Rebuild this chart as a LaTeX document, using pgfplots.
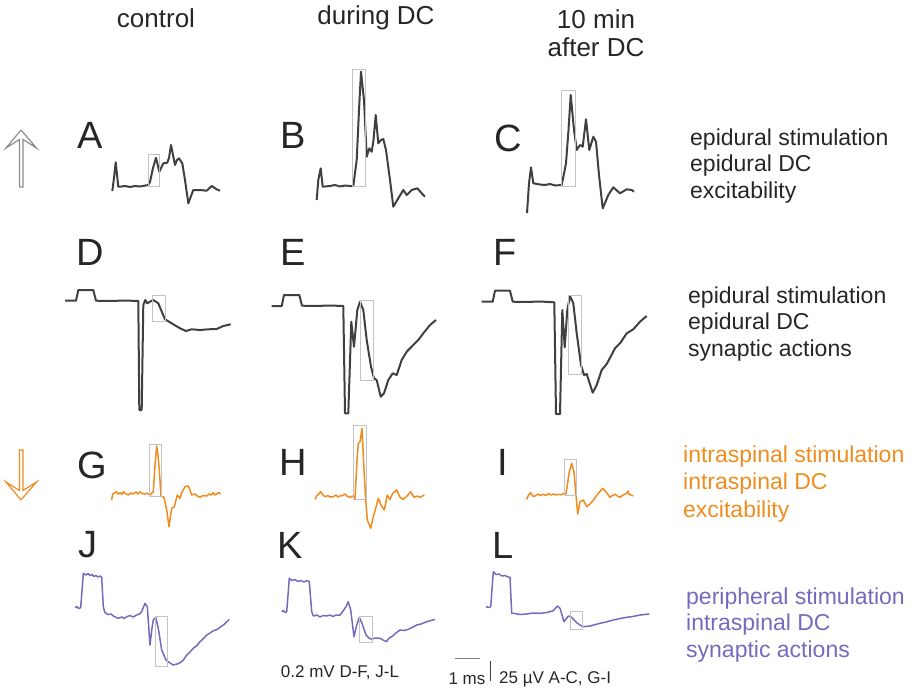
\documentclass[border=0pt]{standalone}
\usepackage{pgfplots}
\pgfplotsset{compat=1.18}
\usepackage{fontspec}
\setmainfont{Liberation Sans}
\definecolor{trace}{RGB}{64,64,64}
\definecolor{orng}{RGB}{240,140,30}
\definecolor{purp}{RGB}{118,106,190}
\definecolor{boxg}{RGB}{195,195,195}
\definecolor{arrg}{RGB}{140,140,140}
\tikzset{
  big/.style={font=\fontsize{38}{40}\selectfont, text=black!85, inner sep=0pt},
  lab/.style={anchor=west, font=\fontsize{23}{26}\selectfont, inner sep=0pt},
  hdr/.style={font=\fontsize{26}{28}\selectfont, text=black!85, inner sep=0pt},
  small/.style={font=\fontsize{17}{19}\selectfont, text=black!85, inner sep=0pt},
}
\pgfplotsset{
  tr/.style={trace, line width=2pt, line join=round},
  tro/.style={orng, line width=1.5pt, line join=round},
  trp/.style={purp, line width=1.5pt, line join=round},
  bx/.style={boxg, line width=0.9pt},
}
\begin{document}
\begin{tikzpicture}
\begin{axis}[
  width=920pt, height=689pt, scale only axis,
  xmin=0, xmax=920, ymin=0, ymax=689, y dir=reverse,
  hide axis, clip=false,
]
\addplot[draw=none] coordinates {(0,0) (920,689)};
% ---------- row 1 traces ----------
\addplot[tr] coordinates {
(112.3,191)(114,178)(115.7,162.3)(118.3,186.7)(120,186.7)(125,186)(130,187)(135,186)(140,186.5)(148.3,185)
(150,182)(153,168)(156,157.7)(159.3,171.7)(163.3,163.3)(167.3,162.7)(169,158)(171,145)(173,155)(175,165)(177,160)(179,158.3)(182.3,163.3)
(185,180)(188.3,203.3)(193.3,190)(200,190)(206.7,190.7)(211.7,186)(216.7,189.3)(220,190.7)};
\addplot[tr] coordinates {
(316.7,200)(318.3,180)(320.7,168.3)(322.7,186.7)(330,186)(335,185)(340,186.5)(345,185.5)(350,186)(353.3,186)
(356.7,160)(359,110)(361,71.7)(364,100)(366.7,156.7)(369.3,148.3)(371.7,151.7)(373.5,140)(375.7,115)(378.3,143.3)(381,140)(383.3,139)(386,150)
(390,180)(393.3,206.7)(397.3,200)(403.3,190)(406.7,195)(411.7,190)(417.3,188.3)(421.7,193.3)(425,196.7)};
\addplot[tr] coordinates {
(527,213)(529,183.3)(531,167.3)(533.3,183.3)(540,184.5)(545,185)(550,184)(555,185.5)(561.7,185)
(566,163.3)(568.5,130)(570.7,95)(574,130)(576.7,150)(580,145)(582.7,146.7)(586,119.3)(589.3,150)(593.3,136.7)(596,141.7)
(599,175)(602.7,208.3)(608.3,195)(613.3,187.3)(620,193.3)(626.7,189.3)(631.7,190)(634,191.7)};
% ---------- row 2 traces ----------
\addplot[tr] coordinates {
(65,300.7)(76,300.7)(78.3,290)(93.3,290)(96,300.7)(110,301)(125,300.5)(138.3,301)(139.3,410)(141.7,410)(143.3,305)(145.3,300)(147.3,303.3)(150,301.7)(153.3,300)(158.3,303.3)
(165,319.3)(173.3,324.3)(180,328.3)(186,331)(191.7,329.3)(200,330)(208.3,329.3)(216.7,329)(223.3,326)(230.7,324.3)};
\addplot[tr] coordinates {
(271.7,306)(281.7,306)(284,295)(299.3,295)(302,305.7)(315,306)(330,305.5)(343.3,306)(345,413.3)(348.3,413.3)(351.3,321.7)(354,346.7)(357.3,310)(360,301.7)(363.3,310)
(366.7,340)(371,366.7)(374,378.3)(376.7,380)(380.7,396.7)(384,393.3)(388.3,380)(392.7,373.3)(396.7,375)(401.7,360)(406.7,351.7)(413.3,345)(418.3,340)(423.3,333.3)(430,325)(436,320)};
\addplot[tr] coordinates {
(481.7,301.7)(492.7,301.7)(495,290.7)(510,290.7)(512.7,301.7)(525,302)(540,301.5)(554.3,302.3)(556,414)(560,414)(562.3,310)(564.7,347.3)(567.3,310)(570,296)(573.3,303.3)
(576.7,333.3)(581,365)(584,375)(586.7,374)(592.7,392.7)(596.7,385)(601.7,370)(606.7,364)(615,348.3)(620,343.3)(626.7,333.3)(633.3,329.3)(640,321.7)(646.7,316)};
% ---------- row 3 traces (orange) ----------
\addplot[tro] coordinates {
(111.7,500)(112.7,494)(114.5,493)(116.7,491.7)(118,494)(120,492.7)(122,494.5)(123.3,491.7)(126,494)(128.3,495)(131,493)(133.3,494)(136,492)(138,494)(140,491.7)(142,493.5)(145,494)(147,493)(150,495)(152,493)(153.3,491.7)
(155,465)(156.7,446)(158,455)(159.3,470)(161,496)(164,497.3)(166.7,510)(169,526.7)(171.7,508.3)(174.3,506.7)(177.3,495)(180,498.3)(182,492)(185,486.7)(188.3,486)(190,490)(191.7,495)(195,494)(197.3,496)(200,497.3)(203,495.5)(206.7,496)(209,494)(211,495)(213.3,492.7)(215,495)(216.7,494)(218.5,492.5)(220.7,494)};
\addplot[tro] coordinates {
(315,499.3)(316.7,496)(318.5,494)(320.7,491.7)(323,495)(325,496.7)(328,495.5)(330,497)(333.3,496.7)(336,495)(338,497)(340,496)(342.5,495.5)(345,494)(347.5,496.5)(350,497.3)(352.5,496)(355,498.3)
(357,460)(358.3,443.3)(360,441.7)(362,428.3)(364,470)(365.7,499.3)(367.3,520)(370.7,528.3)(373.3,516.7)(375.7,508.3)(378.3,498.3)(381,505)(384.3,510)(387.3,495)(390,499.3)(392.7,493.3)(396.7,490)(400,497.3)(403.3,499.3)(407,496)(410.7,491.7)(414,497.3)(417,496)(420,497.3)(424.3,495)};
\addplot[tro] coordinates {
(526.7,499.3)(528.5,495)(530.7,492.7)(532.5,496)(535,496)(538,494)(540.5,495.5)(543.3,494.3)(546,495.5)(548.5,493.5)(551,495)(553.3,494)(556,495)(558.3,494.3)(561,494.8)(563.5,493.5)(566,494)
(569.3,471.7)(571.7,463.3)(574,471.7)(576,495)(577.7,514)(580,501.7)(583.3,500)(586.7,506.7)(590.7,503.3)(594,499.3)(598.3,493.3)(602.7,488.3)(606.7,492.7)(610,497.3)(612.5,495.5)(615,494.3)(617.5,496)(620,497.3)(623,495)(626.7,493.3)(628,491)(629,494.5)(631,495)(633.3,496)};
% ---------- row 4 traces (purple) ----------
\addplot[trp] coordinates {
(75,607.7)(77,606.5)(78.5,608.5)(80.7,607.7)(83.3,573.3)(86,575)(88,573.5)(90,575.5)(92,574.5)(94,576.5)(96,575.5)(98,577)(100,576)(101.7,577.3)(103.3,606.7)(105,612.7)(108,614.5)(111,614)(114,616.5)(118.3,618.3)(122,617)(124,618.5)(126.7,616.7)(130,615.5)(133,617)(136.7,615)(139.5,614)(141.7,611.7)
(143.5,607)(145,603.3)(147.3,606.7)(150,645)(151.7,630)(153.3,620)(155.7,617.3)(158.3,628.3)(161.7,650)(166,660)(170,663)(173.3,665)(177,664)(180,662.7)(183,660.5)(186.7,655)(190,652)(193.3,648.3)(197,645.5)(200,641.7)(203,639)(206.7,635)(210,633)(213.3,630.7)(217,629.5)(220,627.3)(224,624.5)(229.3,619.3)};
\addplot[trp] coordinates {
(281.7,611.7)(283.5,610.5)(285,612.5)(286.7,611.7)(289.3,578.3)(292,580.5)(295,579.5)(298,581.5)(301,580.5)(304,582)(307,580.5)(309.3,581.7)(311.7,611.7)(313.3,616)(317,615)(320,617)(323,615.5)(326.7,616)(330,615)(333,616.5)(336,615)(340,615)(343,611)
(346,606.7)(348.3,601.7)(350.7,610)(354,636.7)(356.7,625)(359.3,617.3)(362,623.3)(366,635)(369,638)(371.7,639.3)(375,638)(380,638.3)(383,640)(386.7,641.7)(389,638)(391.7,636.7)(396,633)(400,630)(404,630.5)(408.3,629.3)(412,627.5)(416.7,625)(421,624)(426.7,621.7)(431,620.5)(435,619.3)};
\addplot[trp] coordinates {
(486,606.7)(488.5,607.5)(490.7,606.7)(493.3,571.7)(496,574.5)(499,574)(502,576)(505,575.5)(508,577)(510,577.3)(511.7,613.3)(515,613.5)(520,614.5)(526.7,614)(533,613)(540,613.3)(547,612.5)(553.3,610.7)(557.3,606)(560,608.3)(564,621.7)(568.3,616)(571.7,617.3)(576.7,622.7)(582.7,626.7)(590,626)(600,623.3)(606,622)(613.3,620)(620,618.5)(626.7,617.3)(633,616.5)(640,615)(649.3,614)};
% ---------- grey boxes ----------
\addplot[bx] coordinates {(148.3,154)(159.3,154)(159.3,186.7)(148.3,186.7)(148.3,154)};
\addplot[bx] coordinates {(352.7,69.3)(365.7,69.3)(365.7,186.7)(352.7,186.7)(352.7,69.3)};
\addplot[bx] coordinates {(561.7,90.7)(575,90.7)(575,186)(561.7,186)(561.7,90.7)};
\addplot[bx] coordinates {(152.7,295)(165.7,295)(165.7,321.7)(152.7,321.7)(152.7,295)};
\addplot[bx] coordinates {(360,300.7)(373.3,300.7)(373.3,380.7)(360,380.7)(360,300.7)};
\addplot[bx] coordinates {(568.3,295)(581.7,295)(581.7,374.3)(568.3,374.3)(568.3,295)};
\addplot[bx] coordinates {(149,444.3)(161.7,444.3)(161.7,496)(149,496)(149,444.3)};
\addplot[bx] coordinates {(353,425.7)(366,425.7)(366,499)(353,499)(353,425.7)};
\addplot[bx] coordinates {(564.3,459)(576.7,459)(576.7,495)(564.3,495)(564.3,459)};
\addplot[bx] coordinates {(155.7,616)(167.3,616)(167.3,666)(155.7,666)(155.7,616)};
\addplot[bx] coordinates {(359.3,616)(372.7,616)(372.7,642.7)(359.3,642.7)(359.3,616)};
\addplot[bx] coordinates {(570,611.7)(582.7,611.7)(582.7,629)(570,629)(570,611.7)};
% ---------- arrows ----------
\addplot[arrg, line width=1.2pt, line join=miter] coordinates {(21,130)(36.5,148)(23,139.5)(23,187)(19.5,187)(19.5,139.5)(6,148)(21,130)};
\addplot[orng, line width=1.2pt, line join=miter] coordinates {(21,500)(36.5,482)(23,490.5)(23,450)(19.5,450)(19.5,490.5)(6,482)(21,500)};
% ---------- scale bars ----------
\addplot[gray, line width=0.8pt] coordinates {(455,658.3)(480,658.3)};
\addplot[trace, line width=0.8pt] coordinates {(490.7,661)(490.7,681)};
% ---------- text ----------
\node[hdr] at (axis cs:156,18) {control};
\node[hdr] at (axis cs:376,18) {during DC};
\node[hdr] at (axis cs:596,19) {10 min};
\node[hdr] at (axis cs:596,47) {after DC};
\node[big] at (axis cs:90,135) {A};
\node[big] at (axis cs:293,135) {B};
\node[big] at (axis cs:508,138) {C};
\node[big] at (axis cs:90,252) {D};
\node[big] at (axis cs:293,252) {E};
\node[big] at (axis cs:505,252) {F};
\node[big] at (axis cs:92,465) {G};
\node[big] at (axis cs:293,462) {H};
\node[big] at (axis cs:503,462) {I};
\node[big] at (axis cs:88,545) {J};
\node[big] at (axis cs:290,545) {K};
\node[big] at (axis cs:503,545) {L};
\node[lab, text=black!85] at (axis cs:690,140) {epidural stimulation};
\node[lab, text=black!85] at (axis cs:690,166) {epidural DC};
\node[lab, text=black!85] at (axis cs:690,193) {excitability};
\node[lab, text=black!85] at (axis cs:688,298) {epidural stimulation};
\node[lab, text=black!85] at (axis cs:688,324) {epidural DC};
\node[lab, text=black!85] at (axis cs:688,351) {synaptic actions};
\node[lab, text=orng] at (axis cs:683,457) {intraspinal stimulation};
\node[lab, text=orng] at (axis cs:683,484) {intraspinal DC};
\node[lab, text=orng] at (axis cs:683,512) {excitability};
\node[lab, text=purp] at (axis cs:686,599) {peripheral stimulation};
\node[lab, text=purp] at (axis cs:686,625) {intraspinal DC};
\node[lab, text=purp] at (axis cs:686,652) {synaptic actions};
\node[small] at (axis cs:340,673) {0.2 mV D-F, J-L};
\node[small] at (axis cs:467,679) {1 ms};
\node[small, anchor=west] at (axis cs:499,679) {25 µV A-C, G-I};
\end{axis}
\end{tikzpicture}
\end{document}
